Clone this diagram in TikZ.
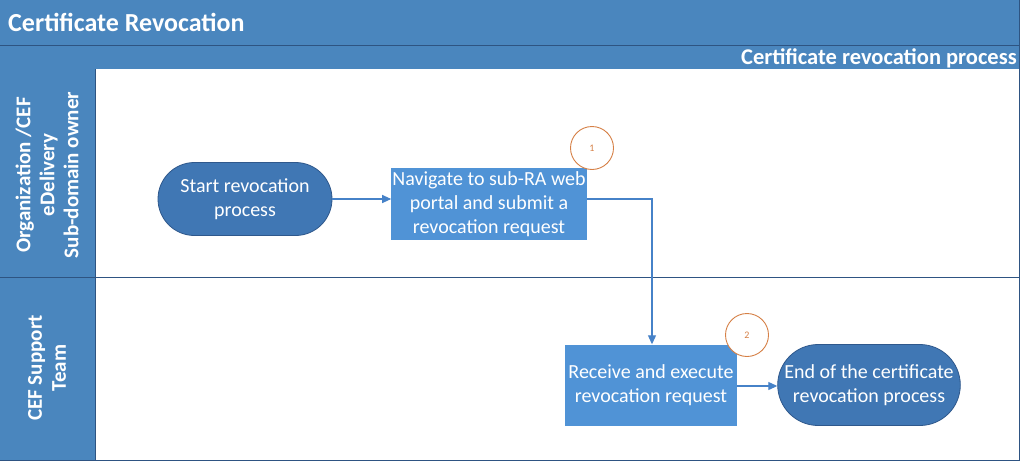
\documentclass[tikz,border=0pt]{standalone}
\usepackage{fontspec}
\setmainfont{Carlito}
\usetikzlibrary{arrows.meta,shapes.misc}
\definecolor{band}{RGB}{74,134,190}
\definecolor{bandline}{RGB}{46,84,130}
\definecolor{pill}{RGB}{64,119,180}
\definecolor{pillline}{RGB}{47,88,140}
\definecolor{boxc}{RGB}{80,147,214}
\definecolor{ring}{RGB}{214,128,70}
\definecolor{flow}{RGB}{70,130,200}
\tikzset{
  x=1pt,y=-1pt,
  pillnode/.style={rounded rectangle, fill=pill, draw=pillline, line width=0.8pt, text=white, font=\fontsize{20}{24}\selectfont, align=center, minimum width=176pt, minimum height=73pt, inner sep=1pt},
  boxnode/.style={rectangle, fill=boxc, text=white, font=\fontsize{20}{24}\selectfont, align=center, inner sep=1pt},
  ringnode/.style={circle, draw=ring, fill=white, line width=0.9pt, minimum size=43pt, inner sep=0pt, text=ring, font=\fontsize{10}{11}\selectfont},
  flowline/.style={draw=flow, line width=1.1pt, -{Triangle[length=9pt,width=8pt]}},
  lanetext/.style={rotate=90, text=white, font=\bfseries\fontsize{21}{24}\selectfont, align=center}
}
\begin{document}
\begin{tikzpicture}
\useasboundingbox (0,0) rectangle (1023,466);
\fill[white] (0,0) rectangle (1023,466);
% banner
\fill[band] (0,0) rectangle (1019,69);
\draw[bandline, line width=0.6pt] (0,45) -- (1019,45);
\node[anchor=west, text=white, font=\bfseries\fontsize{26}{28}\selectfont, inner sep=0pt] (title) at (8,22) {Certificate Revocation};
\node[anchor=east, text=white, font=\bfseries\fontsize{22.5}{24}\selectfont, inner sep=0pt] (subtitle) at (1017,58) {Certificate revocation process};
% lane headers
\fill[band] (0,69) rectangle (95,460);
\draw[bandline, line width=0.6pt] (95,69) -- (95,460);
\draw[bandline, line width=0.8pt] (0,277) -- (1019,277);
\draw[bandline, line width=0.8pt] (0,460) -- (1019,460) -- (1019,0);
\node[lanetext] (lane1) at (47,175) {Organization /CEF\\eDelivery\\Sub-domain owner};
\node[lanetext] (lane2) at (47,368) {CEF Support\\Team};
% nodes
\node[pillnode] (start) at (245,199) {Start revocation\\process};
\node[boxnode, minimum width=195pt, minimum height=72pt] (nav) at (489,204) {Navigate to sub-RA web\\portal and submit a\\revocation request};
\node[ringnode] (r1) at (592,148) {1};
\node[boxnode, minimum width=172pt, minimum height=81pt] (recv) at (651,385) {Receive and execute\\revocation request};
\node[ringnode] (r2) at (747,335) {2};
\node[pillnode, minimum height=81pt] (end) at (869,385) {End of the certificate\\revocation process};
% connectors
\draw[flowline] (start.east |- 0,199) -- (nav.west |- 0,199);
\coordinate (bend) at (652,199);
\draw[flowline] (nav.east |- 0,199) -- (bend) -- (recv.north -| bend);
\draw[flowline] (recv.east |- 0,386) -- (end.west |- 0,386);
\end{tikzpicture}
\end{document}
